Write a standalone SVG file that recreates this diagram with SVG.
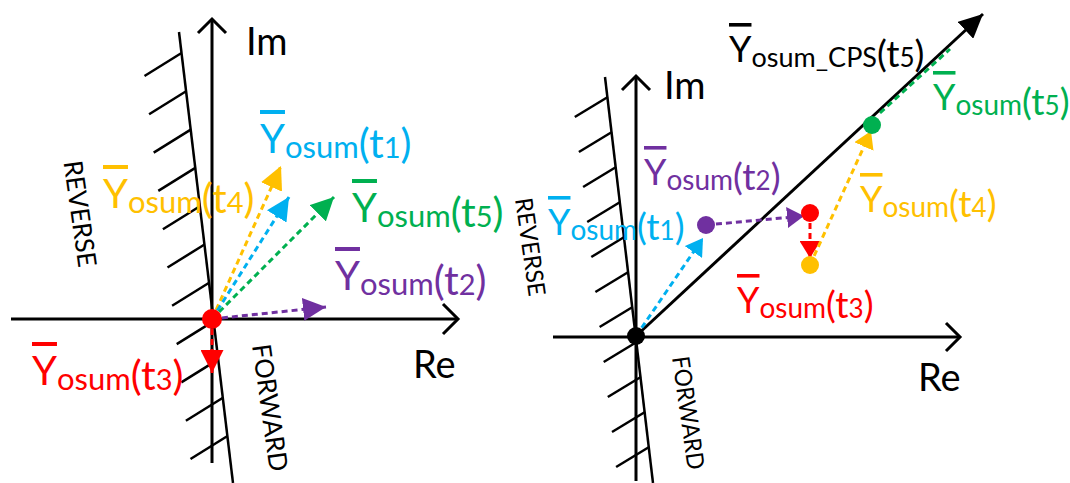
<svg xmlns="http://www.w3.org/2000/svg" width="1070" height="483" viewBox="0 0 1070 483">
<style>
text{font-family:Lato,"Liberation Sans",sans-serif}
.ax{stroke:#000;stroke-width:3;fill:none}
.bd{stroke:#000;stroke-width:2.5;fill:none}
.ht{stroke:#000;stroke-width:2.5}
.dl{stroke-width:3;stroke-dasharray:6 4;fill:none}
.lbl{font-size:41px}
.lbl .y{font-size:40px}
.lbl .s{font-size:31px}
.lbl .d{font-size:29px}
.lbl2{font-size:37px}
.lbl2 .y{font-size:36px}
.lbl2 .s{font-size:28px}
.lbl2 .c{font-size:27px}
.lbl2 .d{font-size:26px}
.ov{text-decoration:overline}
.ax-t{font-size:38px;fill:#000}
.dir{font-size:26px;fill:#000}
.dir2{font-size:24px;fill:#000}
</style>
<defs>
<marker id="mY" viewBox="0 0 10 10" refX="10" refY="5" markerUnits="userSpaceOnUse" markerWidth="23" markerHeight="23" orient="auto"><path d="M0,0L10,5L0,10z" fill="#FFC000"/></marker>
<marker id="mC" viewBox="0 0 10 10" refX="10" refY="5" markerUnits="userSpaceOnUse" markerWidth="23" markerHeight="23" orient="auto"><path d="M0,0L10,5L0,10z" fill="#00B0F0"/></marker>
<marker id="mG" viewBox="0 0 10 10" refX="10" refY="5" markerUnits="userSpaceOnUse" markerWidth="23" markerHeight="23" orient="auto"><path d="M0,0L10,5L0,10z" fill="#00B050"/></marker>
<marker id="mP" viewBox="0 0 10 10" refX="10" refY="5" markerUnits="userSpaceOnUse" markerWidth="23" markerHeight="23" orient="auto"><path d="M0,0L10,5L0,10z" fill="#7030A0"/></marker>
<marker id="mR" viewBox="0 0 10 10" refX="10" refY="5" markerUnits="userSpaceOnUse" markerWidth="23" markerHeight="23" orient="auto"><path d="M0,0L10,5L0,10z" fill="#FF0000"/></marker>
<marker id="sC" viewBox="0 0 10 10" refX="10" refY="5" markerUnits="userSpaceOnUse" markerWidth="17" markerHeight="21" preserveAspectRatio="none" orient="auto"><path d="M0,0L10,5L0,10z" fill="#00B0F0"/></marker>
<marker id="sP" viewBox="0 0 10 10" refX="10" refY="5" markerUnits="userSpaceOnUse" markerWidth="17" markerHeight="21" preserveAspectRatio="none" orient="auto"><path d="M0,0L10,5L0,10z" fill="#7030A0"/></marker>
<marker id="sR" viewBox="0 0 10 10" refX="10" refY="5" markerUnits="userSpaceOnUse" markerWidth="17" markerHeight="21" preserveAspectRatio="none" orient="auto"><path d="M0,0L10,5L0,10z" fill="#FF0000"/></marker>
<marker id="sY" viewBox="0 0 10 10" refX="10" refY="5" markerUnits="userSpaceOnUse" markerWidth="17" markerHeight="21" preserveAspectRatio="none" orient="auto"><path d="M0,0L10,5L0,10z" fill="#FFC000"/></marker>
<marker id="mK" viewBox="0 0 10 10" refX="10" refY="5" markerUnits="userSpaceOnUse" markerWidth="24" markerHeight="23" preserveAspectRatio="none" orient="auto"><path d="M0,0L10,5L0,10z" fill="#000"/></marker>
</defs>

<!-- LEFT DIAGRAM -->
<g id="left-axes">
<line class="ax" x1="212" y1="463" x2="212" y2="19"/>
<polyline class="ax" points="198,33 212,19 226,33"/>
<line class="ax" x1="11" y1="319" x2="458" y2="319"/>
<polyline class="ax" points="443,304 458,319 443,334"/>
<line class="bd" x1="179" y1="32" x2="233" y2="483"/>
<g class="ht">
<line x1="181.5" y1="53" x2="144.5" y2="76"/>
<line x1="186.1" y1="91.3" x2="149.1" y2="114.3"/>
<line x1="190.7" y1="129.6" x2="153.7" y2="152.6"/>
<line x1="195.3" y1="167.9" x2="158.3" y2="190.9"/>
<line x1="199.9" y1="206.2" x2="162.9" y2="229.2"/>
<line x1="204.5" y1="244.5" x2="167.5" y2="267.5"/>
<line x1="209.1" y1="282.8" x2="172.1" y2="305.8"/>
<line x1="213.7" y1="321.1" x2="176.7" y2="344.1"/>
<line x1="218.3" y1="359.4" x2="181.3" y2="382.4"/>
<line x1="222.9" y1="397.7" x2="185.9" y2="420.7"/>
<line x1="227.5" y1="436" x2="190.5" y2="459"/>
</g>
</g>
<text id="left-im" class="ax-t" x="246" y="55">Im</text>
<text id="left-re" class="ax-t" x="413" y="378">Re</text>
<text id="left-reverse" class="dir" transform="translate(71,215) rotate(82)" text-anchor="middle" textLength="107" lengthAdjust="spacingAndGlyphs">REVERSE</text>
<text id="left-forward" class="dir" transform="translate(261,409) rotate(82)" text-anchor="middle" textLength="128" lengthAdjust="spacingAndGlyphs">FORWARD</text>

<g id="connectors">
<line class="dl" stroke="#FFC000" x1="212" y1="319" x2="281" y2="166" marker-end="url(#mY)"/>
<line class="dl" stroke="#00B0F0" x1="212" y1="319" x2="289" y2="197" marker-end="url(#mC)"/>
<line class="dl" stroke="#00B050" x1="212" y1="319" x2="334" y2="197" marker-end="url(#mG)"/>
<line class="dl" stroke="#7030A0" x1="212" y1="319" x2="326" y2="307" marker-end="url(#mP)"/>
<line class="dl" stroke="#FF0000" x1="212" y1="319" x2="212" y2="373" marker-end="url(#mR)"/>

<line class="ax" x1="636" y1="336" x2="983" y2="14" marker-end="url(#mK)"/>
<line class="dl" stroke="#00B050" x1="880" y1="113" x2="950" y2="49"/>
<line class="dl" stroke="#00B0F0" x1="636" y1="336" x2="703" y2="238" marker-end="url(#sC)"/>
<line class="dl" stroke="#7030A0" x1="706" y1="225" x2="804" y2="216" marker-end="url(#sP)"/>
<line class="dl" stroke="#FF0000" x1="810" y1="213" x2="810" y2="258" marker-end="url(#sR)"/>
<line class="dl" stroke="#FFC000" x1="810" y1="265" x2="871" y2="131" marker-end="url(#sY)"/>
</g>

<g id="left-origin"><circle cx="212" cy="319" r="10" fill="#FF0000"/></g>

<g id="left-y1"><text class="lbl" x="260" y="153" fill="#00B0F0"><tspan class="y ov">Y</tspan><tspan class="s" dy="5">osum</tspan><tspan>(t</tspan><tspan class="d">1</tspan><tspan>)</tspan></text></g>
<g id="left-y4"><text class="lbl" x="103" y="208" fill="#FFC000"><tspan class="y ov">Y</tspan><tspan class="s" dy="5">osum</tspan><tspan>(t</tspan><tspan class="d">4</tspan><tspan>)</tspan></text></g>
<g id="left-y5"><text class="lbl" x="352" y="222" fill="#00B050"><tspan class="y ov">Y</tspan><tspan class="s" dy="5">osum</tspan><tspan>(t</tspan><tspan class="d">5</tspan><tspan>)</tspan></text></g>
<g id="left-y2"><text class="lbl" x="335" y="290" fill="#7030A0"><tspan class="y ov">Y</tspan><tspan class="s" dy="5">osum</tspan><tspan>(t</tspan><tspan class="d">2</tspan><tspan>)</tspan></text></g>
<g id="left-y3"><text class="lbl" x="32" y="385" fill="#FF0000"><tspan class="y ov">Y</tspan><tspan class="s" dy="5">osum</tspan><tspan>(t</tspan><tspan class="d">3</tspan><tspan>)</tspan></text></g>

<!-- RIGHT DIAGRAM -->
<g id="right-axes">
<line class="ax" x1="636" y1="481" x2="636" y2="76"/>
<polyline class="ax" points="622,90 636,76 650,90"/>
<line class="ax" x1="553" y1="337" x2="960" y2="337"/>
<polyline class="ax" points="946,323 960,337 946,351"/>
<line class="bd" x1="605" y1="77" x2="653" y2="483"/>
<g class="ht">
<line x1="607.8" y1="97" x2="574.8" y2="117"/>
<line x1="611.9" y1="132" x2="578.9" y2="152"/>
<line x1="616.1" y1="167" x2="583.1" y2="187"/>
<line x1="620.2" y1="202" x2="587.2" y2="222"/>
<line x1="624.3" y1="237" x2="591.3" y2="257"/>
<line x1="628.4" y1="272" x2="595.4" y2="292"/>
<line x1="632.6" y1="307" x2="599.6" y2="327"/>
<line x1="636.7" y1="342" x2="603.7" y2="362"/>
<line x1="640.8" y1="377" x2="607.8" y2="397"/>
<line x1="645" y1="412" x2="612" y2="432"/>
<line x1="649.1" y1="447" x2="616.1" y2="467"/>
</g>
</g>
<text id="right-im" class="ax-t" x="664" y="99">Im</text>
<text id="right-re" class="ax-t" x="918" y="391">Re</text>
<text id="right-reverse" class="dir2" transform="translate(522,248) rotate(82)" text-anchor="middle" textLength="99" lengthAdjust="spacingAndGlyphs">REVERSE</text>
<text id="right-forward" class="dir2" transform="translate(680,414) rotate(82)" text-anchor="middle" textLength="114" lengthAdjust="spacingAndGlyphs">FORWARD</text>

<g id="right-origin"><circle cx="636" cy="336" r="9" fill="#000"/></g>
<g id="right-dot-t2"><circle cx="706" cy="225" r="9" fill="#7030A0"/></g>
<g id="right-dot-t3"><circle cx="810" cy="213" r="9" fill="#FF0000"/></g>
<g id="right-dot-t4"><circle cx="810" cy="265" r="9" fill="#FFC000"/></g>
<g id="right-dot-t5"><circle cx="872" cy="125" r="9" fill="#00B050"/></g>

<g id="right-cps"><text class="lbl2" x="729" y="62" fill="#000"><tspan class="y ov">Y</tspan><tspan class="c" dy="5">osum_CPS</tspan><tspan>(t</tspan><tspan class="d">5</tspan><tspan>)</tspan></text></g>
<g id="right-y5"><text class="lbl2" x="933" y="110" fill="#00B050"><tspan class="y ov">Y</tspan><tspan class="s" dy="5">osum</tspan><tspan>(t</tspan><tspan class="d">5</tspan><tspan>)</tspan></text></g>
<g id="right-y2"><text class="lbl2" x="644" y="185" fill="#7030A0"><tspan class="y ov">Y</tspan><tspan class="s" dy="5">osum</tspan><tspan>(t</tspan><tspan class="d">2</tspan><tspan>)</tspan></text></g>
<g id="right-y1"><text class="lbl2" x="548" y="235" fill="#00B0F0"><tspan class="y ov">Y</tspan><tspan class="s" dy="5">osum</tspan><tspan>(t</tspan><tspan class="d">1</tspan><tspan>)</tspan></text></g>
<g id="right-y4"><text class="lbl2" x="860" y="212" fill="#FFC000"><tspan class="y ov">Y</tspan><tspan class="s" dy="5">osum</tspan><tspan>(t</tspan><tspan class="d">4</tspan><tspan>)</tspan></text></g>
<g id="right-y3"><text class="lbl2" x="737" y="313" fill="#FF0000"><tspan class="y ov">Y</tspan><tspan class="s" dy="5">osum</tspan><tspan>(t</tspan><tspan class="d">3</tspan><tspan>)</tspan></text></g>
</svg>
